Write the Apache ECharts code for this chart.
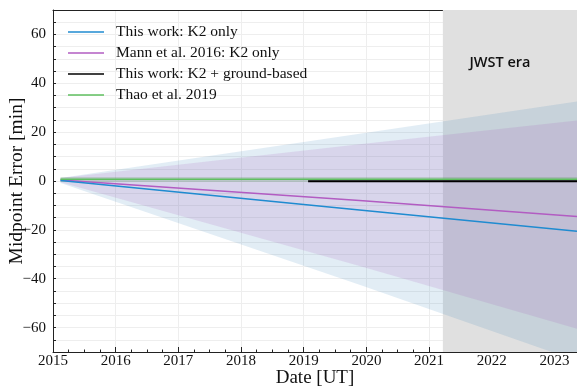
<!DOCTYPE html>
<html><head><meta charset="utf-8">
<script src="https://cdn.jsdelivr.net/npm/echarts@6/dist/echarts.min.js"></script>
<style>html,body{margin:0;padding:0;background:#fff}#c{width:577px;height:388px}</style>
</head><body><div id="c"></div>
<script>
// ---- data ----
const xTicks = [2015, 2016, 2017, 2018, 2019, 2020, 2021, 2022, 2023];
const yTicks = [-60, -40, -20, 0, 20, 40, 60];
const dates = [2015.12, 2019.89, 2023.36];
const blueMid = [0.2, -11.9, -20.6];
const blueHi = [1.2, 19.3, 32.5];
const blueLo = [-0.8, -42.5, -73.6];
const purpleMid = [0.4, -8.0, -14.5];
const purpleHi = [1.2, 15.0, 24.8];
const purpleLo = [-0.5, -34.8, -60.5];
const thaoDates = [2015.12, 2023.36];
const thaoMid = [0.7, 0.7];
const thaoHi = [1.6, 1.6];
const thaoLo = [-0.4, -0.4];
const groundDates = [2019.07, 2023.36];
const groundMid = [-0.1, -0.1];
const jwstRange = [2021.22, 2023.36];
const xRange = [2015, 2023.36];
const yRange = [-70, 70];
const legendNames = ['This work: K2 only', 'Mann et al. 2016: K2 only', 'This work: K2 + ground-based', 'Thao et al. 2019'];

const SERIF = '"Liberation Serif", "DejaVu Serif", serif';
const pair = (xs, ys) => xs.map((x, i) => [x, ys[i]]);

function band(id, xs, lo, hi, color, z) {
  return {
    type: 'custom', name: id, z: z, silent: true, clip: true,
    data: xs.map((x, i) => [x, lo[i], hi[i]]),
    encode: { x: 0, y: [1, 2] },
    renderItem: function (params, api) {
      if (params.dataIndexInside !== 0) return null;
      const top = xs.map((x, i) => api.coord([x, hi[i]]));
      const bot = xs.map((x, i) => api.coord([x, lo[i]])).reverse();
      const cs = params.coordSys;
      return {
        type: 'polygon',
        shape: { points: top.concat(bot) },
        style: { fill: color },
        clipPath: { type: 'rect', shape: { x: cs.x, y: cs.y, width: cs.width, height: cs.height } }
      };
    }
  };
}

const chart = echarts.init(document.getElementById('c'));
chart.setOption({
  animation: false,
  grid: { left: 53, right: 0, top: 10, bottom: 36, containLabel: false, outerBoundsMode: 'none' },
  legend: {
    data: legendNames.map(n => ({ name: n, icon: 'rect' })),
    orient: 'vertical', left: 63, top: 19, itemWidth: 36, itemHeight: 1.6, itemGap: 5,
    textStyle: { fontFamily: SERIF, fontSize: 15.5, color: '#111', lineHeight: 15.5, padding: [0, 0, 0, 7] }
  },
  xAxis: [{
    type: 'value', min: xRange[0], max: xRange[1], interval: 1,
    name: 'Date [UT]', nameLocation: 'middle', nameGap: 17, nameMoveOverlap: false,
    nameTextStyle: { fontFamily: SERIF, fontSize: 19, color: '#111' },
    axisLine: { onZero: false, lineStyle: { color: '#222', width: 1 } },
    axisTick: { inside: true, length: 5, lineStyle: { color: '#222' } },
    minorTick: { show: true, splitNumber: 4, length: 2.5, lineStyle: { color: '#222' } },
    splitLine: { show: true, lineStyle: { color: '#eeeeee', width: 1 } },
    axisLabel: { fontFamily: SERIF, fontSize: 15, color: '#111', margin: 2, showMaxLabel: false,
      formatter: v => xTicks.includes(v) ? String(v) : '' }
  }, {
    type: 'value', position: 'top', min: xRange[0], max: xRange[1],
    axisLine: { show: true, onZero: false, lineStyle: { color: '#222', width: 1 } },
    axisTick: { show: false }, axisLabel: { show: false }, splitLine: { show: false }
  }],
  yAxis: {
    type: 'value', min: yRange[0], max: yRange[1], interval: 5,
    name: 'Midpoint Error [min]', nameLocation: 'middle', nameGap: 26, nameMoveOverlap: false,
    nameTextStyle: { fontFamily: SERIF, fontSize: 19.5, color: '#111' },
    axisLine: { show: true, onZero: false, lineStyle: { color: '#222', width: 1 } },
    axisTick: { show: true, inside: true, length: 3, lineStyle: { color: '#222' } },
    splitLine: { show: true, lineStyle: { color: '#eeeeee', width: 1 }, interval: (i, v) => yTicks.includes(v) },
    axisLabel: { fontFamily: SERIF, fontSize: 15, color: '#111', margin: 7,
      formatter: v => yTicks.includes(v) ? String(v).replace('-', '\u2212') : '' }
  },
  series: [
    { type: 'line', name: 'jwst', data: [], silent: true, z: 1,
      markArea: { silent: true, itemStyle: { color: '#e0e0e0' },
        label: { show: true, position: 'insideTop', distance: 45, offset: [-10, 0], color: '#111',
          fontFamily: '"Open Sans", "DejaVu Sans", sans-serif', fontSize: 14.5, fontWeight: 600 },
        data: [[{ name: 'JWST era', xAxis: jwstRange[0], yAxis: yRange[0] }, { xAxis: jwstRange[1], yAxis: yRange[1] }]] } },
    band('blue', dates, blueLo, blueHi, 'rgba(31,119,180,0.13)', 2),
    band('purple', dates, purpleLo, purpleHi, 'rgba(160,80,180,0.15)', 3),
    band('thao', thaoDates, thaoLo, thaoHi, 'rgba(90,150,90,0.25)', 4),
    { type: 'line', name: legendNames[1], data: pair(dates, purpleMid), symbol: 'none', z: 5,
      lineStyle: { color: '#b25cc2', width: 1.5 }, itemStyle: { color: '#b25cc2' } },
    { type: 'line', name: legendNames[0], data: pair(dates, blueMid), symbol: 'none', z: 5,
      lineStyle: { color: '#1f8bd0', width: 1.5 }, itemStyle: { color: '#1f8bd0' } },
    { type: 'line', name: legendNames[3], data: pair(thaoDates, thaoMid), symbol: 'none', z: 6,
      lineStyle: { color: '#5fbf5f', width: 1.6 }, itemStyle: { color: '#5fbf5f' } },
    { type: 'line', name: legendNames[2], data: pair(groundDates, groundMid), symbol: 'none', z: 7,
      lineStyle: { color: '#000', width: 2 }, itemStyle: { color: '#000' } }
  ]
});
</script></body></html>
